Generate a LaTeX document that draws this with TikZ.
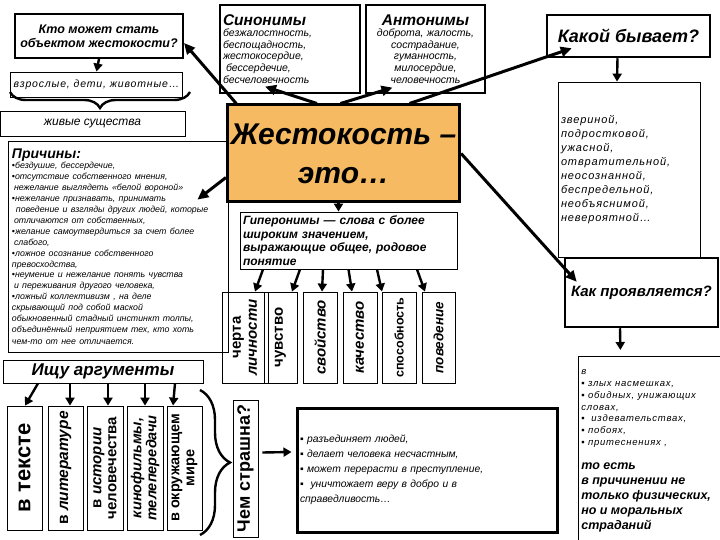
\documentclass[tikz,border=0pt]{standalone}
\usepackage{fontspec}
\setmainfont{Liberation Sans}
\usetikzlibrary{arrows.meta,decorations.pathreplacing}
\definecolor{cruelorange}{RGB}{246,186,98}
\newcommand{\fsz}[2]{\fontsize{#1}{#2}\selectfont}
\newcommand{\trk}{\addfontfeature{LetterSpace=8}}
\tikzset{
  box/.style={draw, line width=0.8pt, inner sep=3pt},
  heavy/.style={draw, line width=2.5pt, inner sep=3pt},
  vbox/.style={draw, line width=0.8pt, rotate=90, inner sep=1pt, align=center},
  arr/.style={line width=3pt, -{Triangle[length=11pt,width=10pt]}},
  sarr/.style={line width=2.4pt, -{Triangle[length=8pt,width=9pt]}},
  brc/.style={line width=2.4pt, decorate, decoration={brace, amplitude=#1}},
}

\begin{document}
\begin{tikzpicture}[x=1pt,y=-1pt]
\useasboundingbox (0,0) rectangle (720,540);

\node[heavy, line width=2pt, minimum width=168pt, minimum height=44pt, align=center, font=\fsz{12.5}{14}\bfseries\itshape] (who) at (99,36) {Кто может стать\\объектом жестокости?};
\node[box, minimum width=163pt, minimum height=25pt, font=\fsz{10.5}{12}\itshape\trk] (adults) at (96.5,84.5) {взрослые, дети, животные…};
\node[box, minimum width=185pt, minimum height=25pt, font=\fsz{12}{14}\itshape] (beings) at (92.5,123.5) {живые существа};

\node[box, line width=1.2pt, text width=134pt, minimum height=88pt, align=left] (syn) at (290,49) {{\fsz{15.5}{16}\bfseries\itshape Синонимы}\par\fsz{10.5}{11.5}\itshape безжалостность,\\беспощадность,\\жестокосердие,\\\hspace*{3pt}бессердечие,\\бесчеловечность};
\node[box, line width=1.2pt, text width=113pt, minimum height=88pt, align=center] (ant) at (425.5,49) {{\fsz{15.5}{16}\bfseries\itshape Антонимы}\par\fsz{10.5}{11.5}\itshape доброта, жалость,\\сострадание,\\гуманность,\\милосердие,\\человечность};

\node[heavy, minimum width=163pt, minimum height=42pt, font=\fsz{18}{20}\bfseries\itshape] (kind) at (628.5,36) {Какой бывает?};
\node[box, text width=136pt, minimum height=175pt, align=left, font=\fsz{11}{14}\itshape\trk] (kinds) at (629,169.5) {звериной,\\подростковой,\\ужасной,\\отвратительной,\\неосознанной,\\беспредельной,\\необъяснимой,\\невероятной…};

\node[draw, fill=cruelorange, line width=3pt, minimum width=227pt, minimum height=97pt, align=center, font=\fsz{30}{39}\bfseries\itshape] (cruel) at (343.5,153.5) {Жестокость –\\это…};

\node[box, text width=212pt, minimum height=211pt, align=left, inner sep=4pt] (causes) at (118,246.5) {{\fsz{14}{15}\bfseries\itshape Причины:}\par\fsz{8.8}{10.9}\itshape •бездушие, бессердечие,\\•отсутствие собственного мнения,\\\hspace*{2pt}нежелание выглядеть «белой вороной»\\•нежелание признавать, принимать\\\hspace*{4pt}поведение и взгляды других людей, которые\\\hspace*{2pt}отличаются от собственных,\\•желание самоутвердиться за счет более\\\hspace*{2pt}слабого,\\•ложное осознание собственного\\превосходства,\\•неумение и нежелание понять чувства\\\hspace*{2pt}и переживания другого человека,\\•ложный коллективизм , на деле\\скрывающий под собой маской\\обыкновенный стадный инстинкт толпы,\\объединённый неприятием тех, кто хоть\\чем-то от нее отличается.};

\node[box, inner ysep=1pt, text width=211pt, minimum height=57pt, align=left, font=\fsz{12}{13.5}\bfseries\itshape] (hyper) at (348.5,240.5) {Гиперонимы — слова с более\\широким значением,\\выражающие общее, родовое\\понятие};

\node[vbox, minimum width=91pt, minimum height=46pt, font=\fsz{15}{16}\bfseries] (trait) at (245,337.5) {черта\\\itshape личности};
\node[vbox, minimum width=91pt, minimum height=33pt, font=\fsz{15}{16}\bfseries] (feel) at (280.5,337.5) {чувство};
\node[vbox, minimum width=91pt, minimum height=34pt, font=\fsz{15}{16}\bfseries\itshape] (prop) at (320,337.5) {свойство};
\node[vbox, minimum width=91pt, minimum height=34pt, font=\fsz{15}{16}\bfseries\itshape] (qual) at (360,337.5) {качество};
\node[vbox, minimum width=91pt, minimum height=34pt, font=\fsz{12.5}{14}\bfseries] (abil) at (399,337.5) {способность};
\node[vbox, minimum width=91pt, minimum height=33pt, font=\fsz{13.5}{15}\bfseries\itshape] (behav) at (438.5,337.5) {поведение};

\node[heavy, minimum width=153pt, minimum height=69pt, font=\fsz{15}{17}\bfseries\itshape] (shows) at (641.5,292.5) {Как проявляется?};
\node[box, text width=136pt, minimum height=189pt, align=left, anchor=north west] (ways) at (578,356) {{\fsz{9.5}{11.8}\itshape\trk в\\▪ злых насмешках,\\▪ обидных, унижающих\\словах,\\▪ \ издевательствах,\\▪ побоях,\\▪ притеснениях ,\par}\vspace{9pt}\fsz{12.5}{15}\bfseries\itshape то есть\\в причинении не\\только физических,\\но и моральных\\страданий\par};

\node[box, minimum width=200pt, minimum height=23pt, inner sep=1pt, font=\fsz{17}{18}\bfseries\itshape] (search) at (103,371.5) {Ищу аргументы};
\node[vbox, minimum width=124pt, minimum height=35pt, font=\fsz{22}{23}\bfseries] (atext) at (24.5,468) {в тексте};
\node[vbox, minimum width=124pt, minimum height=35pt, font=\fsz{15.5}{17}\bfseries] (alit) at (65.5,468) {в \textit{литературе}};
\node[vbox, minimum width=124pt, minimum height=36pt, font=\fsz{15}{15}\bfseries] (ahist) at (105,468) {в \textit{истории}\\человечества};
\node[vbox, minimum width=124pt, minimum height=36pt, font=\fsz{14.5}{15}\bfseries\itshape] (afilm) at (145,468) {кинофильмы,\\телепередачи};
\node[vbox, minimum width=124pt, minimum height=35pt, font=\fsz{14.5}{15}\bfseries] (aworld) at (184.5,468) {в окружающем\\мире};

\node[vbox, minimum width=137pt, minimum height=25pt, font=\fsz{18}{19}\bfseries] (fear) at (245.5,468.5) {Чем страшна?};
\node[box, line width=3pt, text width=254pt, minimum height=124pt, align=left, font=\fsz{10.3}{15}\itshape] (harm) at (427,470) {▪ разъединяет людей,\\▪ делает человека несчастным,\\▪ может перерасти в преступление,\\▪ \ уничтожает веру в добро и в\\справедливость…};

\draw[brc=16pt] (190,92) -- (10,92);
\draw[brc=30pt] (200,390) -- (200,535);

\path[draw,sarr] (who.south) -- (adults.north);
\path[draw,arr] (cruel.155) -- ([shift={(0,7)}]who.east);
\path[draw,arr] (cruel.118) -- ([shift={(-25,-7)}]syn.south);
\path[draw,arr] ([xshift=-3pt]cruel.north) -- ([shift={(-33,-6)}]ant.south);
\path[draw,arr] ([xshift=66pt]cruel.north) -- ([shift={(26,-10)}]kind.south west);
\path[draw,arr] (cruel.east) -- ([shift={(13,25)}]shows.north west);
\path[draw,arr] ([shift={(0,24)}]cruel.west) -- ([shift={(-31,59)}]causes.north east);
\path[draw,sarr] ([xshift=-11pt]kind.south) -- ([xshift=-12pt]kinds.north);
\path[draw,sarr] ([xshift=-5pt]cruel.south) -- ([xshift=-10pt]hyper.north);

\path[draw,sarr] ([xshift=-85.5pt]hyper.south) -- ([xshift=10pt]trait.east);
\path[draw,sarr] ([xshift=-48.5pt]hyper.south) -- ([xshift=11.5pt]feel.east);
\path[draw,sarr] ([xshift=-25.5pt]hyper.south) -- ([xshift=2pt]prop.east);
\path[draw,sarr] (hyper.south) -- ([xshift=-8pt]qual.east);
\path[draw,sarr] ([xshift=28.5pt]hyper.south) -- ([xshift=-17pt]abil.east);
\path[draw,sarr] ([xshift=68.5pt]hyper.south) -- ([xshift=-13.5pt]behav.east);

\path[draw,sarr] ([xshift=-21.5pt]shows.south) -- ([shift={(-29,-6)}]ways.north);

\path[draw,sarr] ([xshift=-65pt]search.south) -- ([xshift=0.5pt]atext.east);
\path[draw,sarr] ([xshift=-33pt]search.south) -- ([xshift=4.5pt]alit.east);
\path[draw,sarr] ([xshift=5pt]search.south) -- ([xshift=3pt]ahist.east);
\path[draw,sarr] ([xshift=42pt]search.south) -- (afilm.east);
\path[draw,sarr] ([xshift=72pt]search.south) -- ([xshift=-11.5pt]aworld.east);

\path[draw,sarr] ([shift={(4,-16)}]fear.south) -- ([shift={(-4,-18)}]harm.west);
\end{tikzpicture}
\end{document}
